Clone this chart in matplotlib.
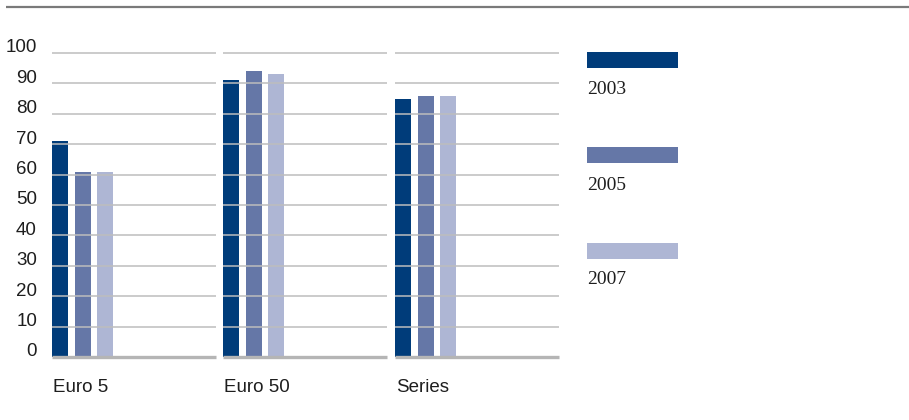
import matplotlib
matplotlib.use('Agg')
import matplotlib.pyplot as plt
import matplotlib.transforms as mtransforms
from matplotlib.patches import Rectangle
from matplotlib.lines import Line2D

# data
categories = ['Euro 5', 'Euro 50', 'Series']
years = ['2003', '2005', '2007']
values = {
    '2003': [71, 91, 85],
    '2005': [61, 94, 86],
    '2007': [61, 93, 86],
}
yticks = [0, 10, 20, 30, 40, 50, 60, 70, 80, 90, 100]
colors = ['#003c7a', '#6577a7', '#aeb6d4']

W, H = 909, 420
fig = plt.figure(figsize=(W / 100, H / 100), dpi=100)
plt.rcParams['font.family'] = ['Liberation Sans', 'DejaVu Sans']

# horizontal rule at the top
fig.add_artist(Line2D([6 / W, 1], [1 - 7 / H, 1 - 7 / H], transform=fig.transFigure,
                      color='#7a7a7a', lw=1.6, solid_capstyle='butt'))

panel_left = [52, 223, 395]
panel_w = 164
y0_px, y100_px = 357, 53
pitch = 22.5
bar_w = 16 / pitch

for i, cat in enumerate(categories):
    ax = fig.add_axes([panel_left[i] / W, 1 - y0_px / H, panel_w / W, (y0_px - y100_px) / H])
    for j, yr in enumerate(years):
        ax.bar(j, values[yr][i], width=bar_w, align='edge', color=colors[j], zorder=2)
    ax.set_xlim(0, panel_w / pitch)
    ax.set_ylim(0, 100)
    for t in yticks[1:]:
        ax.axhline(t, color='#bdbdbd', lw=1.1, zorder=3, clip_on=False,
                   solid_capstyle='butt')
    ax.axhline(0, color='#b5b5b5', lw=2.4, zorder=3, clip_on=False,
               solid_capstyle='butt')
    for s in ax.spines.values():
        s.set_visible(False)
    ax.set_xticks([])
    ax.set_yticks(yticks)
    if i == 0:
        ax.set_yticklabels([str(t) for t in yticks], fontsize=13.5, color='#1e1e1e')
        ax.tick_params(axis='y', length=0, pad=10.8)
        off = mtransforms.ScaledTranslation(0, 7 / 100, fig.dpi_scale_trans)
        for lab in ax.get_yticklabels():
            lab.set_transform(lab.get_transform() + off)
    else:
        ax.tick_params(axis='y', length=0, labelleft=False)
    ax.text(0.005, -30 / (y0_px - y100_px), cat, transform=ax.transAxes,
            ha='left', va='center', fontsize=13.5, color='#1e1e1e')

# legend
leg_x = 587
patch_top = [52, 147, 243]
text_y = [90, 185, 279]
for j, yr in enumerate(years):
    fig.add_artist(Rectangle((leg_x / W, 1 - (patch_top[j] + 16) / H), 91 / W, 16 / H,
                             transform=fig.transFigure, color=colors[j], lw=0))
    fig.text(leg_x / W, 1 - text_y[j] / H, yr, ha='left', va='center',
             fontsize=14, family=['Liberation Serif', 'DejaVu Serif'], color='#1e1e1e')

fig.savefig('out.png', dpi=100)
